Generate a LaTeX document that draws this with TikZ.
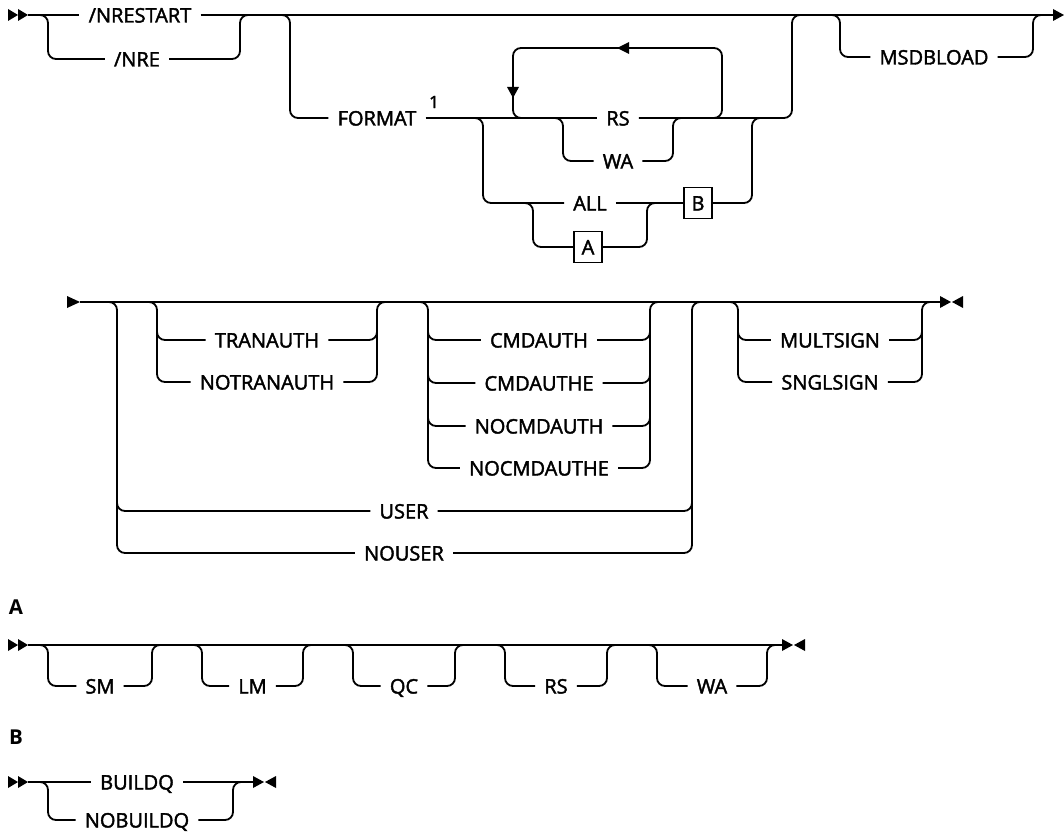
\documentclass[tikz,border=0pt]{standalone}
\usepackage{fontspec}
\setmainfont{Open Sans}
\IfFontExistsTF{Open Sans SemiBold}
  {\newfontfamily\railfont{Open Sans SemiBold}}
  {\newfontfamily\railfont{Open Sans}[FakeBold=2]}
\usetikzlibrary{arrows.meta}

\begin{document}
\begin{tikzpicture}[
    x = 1pt, y = -1pt,
    rail/.style = {
      line width = 1.8pt,
      rounded corners = 8pt},
    kw/.style = {
      inner xsep = 9pt,
      inner ysep = 0pt,
      text height = 15pt,
      text depth = 0pt,
      font = \railfont\fontsize{20}{22}\selectfont},
    refbox/.style = {
      draw,
      line width = 1.3pt,
      minimum width = 28pt,
      minimum height = 31pt,
      inner sep = 0pt,
      text height = 15pt,
      text depth = 0pt,
      font = \railfont\fontsize{20}{22}\selectfont},
    sect/.style = {
      inner sep = 0pt,
      text height = 15pt,
      text depth = 0pt,
      font = \bfseries\fontsize{20.5}{22}\selectfont},
    dblhead/.pic = {
      \fill (0,-6) -- (10,0) -- (0,6) -- cycle;
      \fill (10,-6) -- (20,0) -- (10,6) -- cycle;},
    endmark/.pic = {
      \fill (0,-6) -- (11,0) -- (0,6) -- cycle;
      \fill (23,-6) -- (12,0) -- (23,6) -- cycle;}
  ]
  \useasboundingbox (0,0) rectangle (1064,837);

  % first line of the command
  \pic at (8,15) {dblhead};
  \node[kw] (nrestart) at (140,15) {/NRESTART};
  \node[kw] (nre) at (137,59) {/NRE};
  \node[kw] (format) at (377,118) {FORMAT};
  \node[font=\railfont\fontsize{17}{18}\selectfont, inner sep=0pt] (fnote) at (434,102) {1};
  \node[kw] (rs) at (618,118) {RS};
  \node[kw] (wa) at (618,161) {WA};
  \node[kw] (all) at (590,203) {ALL};
  \node[refbox] (boxa) at (588,247) {A};
  \node[refbox] (boxb) at (698,203) {B};
  \node[kw] (msdbload) at (934,57) {MSDBLOAD};

  \draw[rail] (28,15) -- (nrestart.west);
  \draw[rail] (nrestart.east) -- (1053,15);
  \fill (1053,9) -- (1064,15) -- (1053,21) -- cycle;

  \draw[rail] (38,15) -- (48,15) -- (48,59) -- (nre.west);
  \draw[rail] (nre.east) -- (240,59) -- (240,15) -- (250,15);

  % FORMAT with repeat loop
  \draw[rail] (280,15) -- (290,15) -- (290,118) -- (format.west);
  \draw[rail] (format.east) -- (rs.west);
  \draw[rail] (rs.east) -- (792,118) -- (792,15) -- (802,15);
  \draw[rail] (523,118) -- (513,118) -- (513,48) -- (722,48) -- (722,118) -- (712,118);
  \fill (629,42) -- (617,48) -- (629,54) -- cycle;
  \fill (507,87) -- (513,98) -- (519,87) -- cycle;
  \draw[rail] (553,118) -- (563,118) -- (563,161) -- (wa.west);
  \draw[rail] (wa.east) -- (673,161) -- (673,118) -- (683,118);
  \draw[rail] (473,118) -- (483,118) -- (483,203) -- (all.west);
  \draw[rail] (all.east) -- (boxb.west);
  \draw[rail] (boxb.east) -- (752,203) -- (752,118) -- (762,118);
  \draw[rail] (523,203) -- (533,203) -- (533,247) -- (boxa.west);
  \draw[rail] (boxa.east) -- (647,247) -- (647,203) -- (657,203);

  \draw[rail] (830,15) -- (840,15) -- (840,57) -- (msdbload.west);
  \draw[rail] (msdbload.east) -- (1033,57) -- (1033,15) -- (1043,15);

  % second line of the command
  \fill (67,296) -- (80,302) -- (67,308) -- cycle;
  \draw[rail] (80,302) -- (940,302);
  \pic at (940,302) {endmark};

  \node[kw] (tranauth) at (267,340) {TRANAUTH};
  \node[kw] (notranauth) at (267,382) {NOTRANAUTH};
  \draw[rail] (147,302) -- (157,302) -- (157,382) -- (notranauth.west);
  \draw[rail] (157,330) -- (157,340) -- (tranauth.west);
  \draw[rail] (tranauth.east) -- (377,340) -- (377,330);
  \draw[rail] (notranauth.east) -- (377,382) -- (377,302) -- (387,302);

  \node[kw] (cmdauth) at (539,340) {CMDAUTH};
  \node[kw] (cmdauthe) at (539,383) {CMDAUTHE};
  \node[kw] (nocmdauth) at (539,426) {NOCMDAUTH};
  \node[kw] (nocmdauthe) at (539,468) {NOCMDAUTHE};
  \draw[rail] (418,302) -- (428,302) -- (428,468) -- (nocmdauthe.west);
  \draw[rail] (428,330) -- (428,340) -- (cmdauth.west);
  \draw[rail] (428,373) -- (428,383) -- (cmdauthe.west);
  \draw[rail] (428,416) -- (428,426) -- (nocmdauth.west);
  \draw[rail] (cmdauth.east) -- (650,340) -- (650,330);
  \draw[rail] (cmdauthe.east) -- (650,383) -- (650,373);
  \draw[rail] (nocmdauth.east) -- (650,426) -- (650,416);
  \draw[rail] (nocmdauthe.east) -- (650,468) -- (650,302) -- (660,302);

  \node[kw] (user) at (404,511) {USER};
  \node[kw] (nouser) at (404,553) {NOUSER};
  \draw[rail] (107,302) -- (117,302) -- (117,553) -- (nouser.west);
  \draw[rail] (117,501) -- (117,511) -- (user.west);
  \draw[rail] (user.east) -- (692,511) -- (692,501);
  \draw[rail] (nouser.east) -- (692,553) -- (692,302) -- (702,302);

  \node[kw] (multsign) at (830,340) {MULTSIGN};
  \node[kw] (snglsign) at (830,382) {SNGLSIGN};
  \draw[rail] (728,302) -- (738,302) -- (738,382) -- (snglsign.west);
  \draw[rail] (738,330) -- (738,340) -- (multsign.west);
  \draw[rail] (multsign.east) -- (922,340) -- (922,330);
  \draw[rail] (snglsign.east) -- (922,382) -- (922,302) -- (932,302);

  % fragment A
  \node[sect] (seca) at (16,607) {A};
  \pic at (8,645) {dblhead};
  \draw[rail] (28,645) -- (782,645);
  \pic at (782,645) {endmark};
  \foreach \name/\l/\r in {SM/48/152, LM/202/303, QC/353/455, RS/505/607, WA/657/767} {
    \node[kw] (opt\name) at ({(\l+\r)/2},686) {\name};
    \draw[rail] (\l-10,645) -- (\l,645) -- (\l,686) -- (opt\name.west);
    \draw[rail] (opt\name.east) -- (\r,686) -- (\r,645) -- (\r+10,645);
  }

  % fragment B
  \node[sect] (secb) at (16,737) {B};
  \pic at (8,782) {dblhead};
  \node[kw] (buildq) at (137,782) {BUILDQ};
  \node[kw] (nobuildq) at (137,820) {NOBUILDQ};
  \draw[rail] (28,782) -- (buildq.west);
  \draw[rail] (buildq.east) -- (253,782);
  \pic at (253,782) {endmark};
  \draw[rail] (38,782) -- (48,782) -- (48,820) -- (nobuildq.west);
  \draw[rail] (nobuildq.east) -- (233,820) -- (233,782) -- (243,782);

\end{tikzpicture}
\end{document}
